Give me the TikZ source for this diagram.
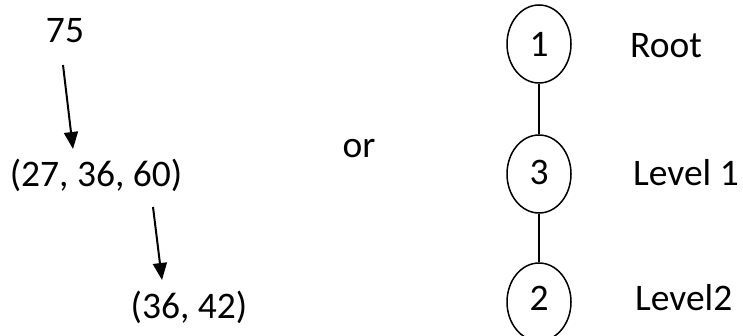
\documentclass[tikz,border=0pt]{standalone}
\usepackage{fontspec}
\setmainfont{Carlito}
\usetikzlibrary{arrows.meta,shapes.geometric}
\begin{document}
\begin{tikzpicture}[x=1pt,y=-1pt,
  lbl/.style={inner sep=0pt,anchor=base,font=\fontsize{37.5}{42}\selectfont},
  lblw/.style={lbl,anchor=base west},
  vert/.style={draw,ellipse,line width=1.5pt,minimum width=64pt,minimum height=78pt,inner sep=0pt},
  ptr/.style={line width=2pt,-{Triangle[length=17pt,width=14pt]}},
  edge/.style={line width=1.5pt}]
\useasboundingbox (0,0) rectangle (743,336);

% left: search path
\node[lbl] (a) at (65,43) {75};
\node[lbl] (b) at (96,187) {(27, 36, 60)};
\node[lbl] (c) at (189,318) {(36, 42)};
\coordinate (a1) at (63,65);
\coordinate (a2) at (73,149);
\coordinate (b1) at (153,207);
\coordinate (b2) at (162,280);
\draw[ptr] (a1) -- (a2);
\draw[ptr] (b1) -- (b2);

\node[lbl] (or) at (359,158) {or};

% right: tree
\node[vert] (n1) at (539,44) {};
\node[vert] (n3) at (539,174) {};
\node[vert] (n2) at (539,302) {};
\node[lbl] at (539,57) {1};
\node[lbl] at (539,185) {3};
\node[lbl] at (539,310) {2};
\draw[edge] (n1) -- (n3);
\draw[edge] (n3) -- (n2);

\node[lblw] (r) at (630,58) {Root};
\node[lblw] (l1) at (633,186) {Level 1};
\node[lblw] (l2) at (635,310) {Level2};
\end{tikzpicture}
\end{document}
